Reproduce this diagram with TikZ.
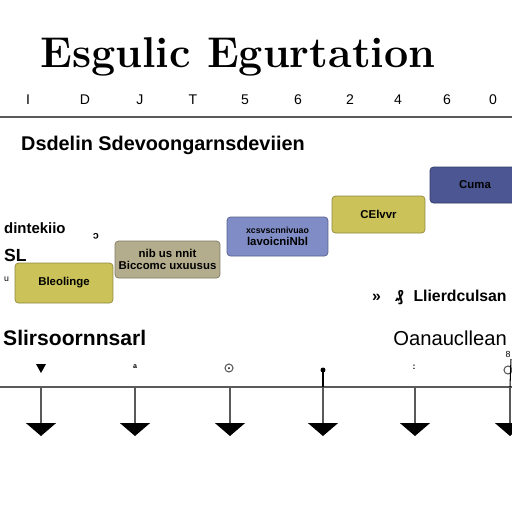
\documentclass[tikz,border=0pt]{standalone}
\usepackage{fontspec}
\setsansfont{Liberation Sans}
\usetikzlibrary{arrows.meta}

\definecolor{boxyellow}{HTML}{CBC35A}
\definecolor{boxtan}{HTML}{B4AD8D}
\definecolor{boxblue}{HTML}{7F8CC6}
\definecolor{boxnavy}{HTML}{4B5692}
\definecolor{rulegray}{HTML}{5A5A5A}

\tikzset{
  stage/.style={draw=#1!70!black, fill=#1, rounded corners=2pt, inner sep=1pt,
    font=\sffamily\bfseries\fontsize{6.5}{7}\selectfont, align=center},
  tick/.style={font=\sffamily\fontsize{8}{9}\selectfont},
  label/.style={font=\sffamily\bfseries\fontsize{8.5}{10}\selectfont, anchor=west},
  stem/.style={draw=rulegray, line width=0.7pt,
    -{Triangle[width=0.6cm,length=0.26cm,black]}}
}

\begin{document}
\begin{tikzpicture}[x=0.02cm,y=-0.02cm]

\fill[white] (0,0) rectangle (512,512);
\clip (0,0) rectangle (512,512);

% Title
\node (title) at (238,57)
{\fontsize{24.5}{28}\selectfont\bfseries Esgulic Egurtation};

% Ruler
\foreach \x/\t in {
28/I,85/D,140/J,193/T,245/5,
298/6,350/2,398/4,447/6,493/0
}
{
\node[tick] (tick-\x) at (\x,100) {\t};
}
\draw[rulegray, line width=0.8pt] (0,117) -- (512,117);

% Subtitle
\node[anchor=west, font=\sffamily\bfseries\fontsize{11.3}{13}\selectfont] (sub) at (15,145)
{Dsdelin Sdevoongarnsdeviien};

% Stages
\node[stage=boxyellow, minimum width=1.96cm, minimum height=0.8cm] (s1) at (64,283)
{Bleolinge};
\node[stage=boxtan, minimum width=2.1cm, minimum height=0.74cm] (s2) at (167.5,259.5)
{nib us nnit\\ Biccomc uxuusus};
\node[stage=boxblue, minimum width=2.02cm, minimum height=0.78cm] (s3) at (277.5,236.5)
{\tiny xcsvscnnivuao\\ lavoicniNbl};
\node[stage=boxyellow, minimum width=1.86cm, minimum height=0.74cm] (s4) at (378.5,214.5)
{CElvvr};
\node[stage=boxnavy, minimum width=1.8cm, minimum height=0.72cm] (s5) at (475,185)
{Cuma};

% Side labels
\node[label] (l1) at (-2,228) {dintekiio};
\node[label, font=\sffamily\bfseries\fontsize{10}{11}\selectfont] (l2) at (-2,255) {SL};
\node[label, font=\sffamily\fontsize{5}{6}\selectfont] (l3) at (-2,279) {u};
\node[font=\sffamily\bfseries\fontsize{6}{7}\selectfont, rotate=180] (l4) at (96,236) {c};
\node[label, font=\sffamily\bfseries\fontsize{9}{10}\selectfont] (l5) at (366,297)
{» \,\, ₰\,\, Llierdculsan};

% Timeline
\node[label, font=\sffamily\bfseries\fontsize{12}{14}\selectfont] (t1) at (-3,338)
{Slirsoornnsarl};
\node[label, anchor=east, font=\sffamily\fontsize{11.5}{14}\selectfont] (t2) at (513,338)
{Oanaucllean};

\draw[rulegray, line width=0.8pt] (0,387) -- (512,387);

\foreach \i/\x in {1/41,2/135,3/230,4/323,5/415,6/510}
{
\coordinate (top-\i) at (\x,387);
\coordinate (bot-\i) at (\x,436);
\draw[stem] (top-\i) -- (bot-\i);
}

% Marks above the line
\fill (36,364) -- (46,364) -- (41,373) -- cycle;
\node[font=\sffamily\bfseries\fontsize{4}{5}\selectfont] (m2) at (135,367) {a};
\draw[rulegray, line width=0.6pt] (229,368) circle (4);
\fill (229,368) circle (1);
\fill (323,370) circle (2.5);
\draw[line width=0.8pt] (323,370) -- (top-4);
\node[font=\sffamily\bfseries\fontsize{5}{6}\selectfont] (m5) at (414,367) {:};
\draw[rulegray, line width=0.6pt] (508,370) circle (4);
\node[font=\sffamily\fontsize{5}{6}\selectfont] (m6) at (508,354) {8};
\draw[line width=0.6pt] (511,359) -- (top-6);

\end{tikzpicture}
\end{document}
